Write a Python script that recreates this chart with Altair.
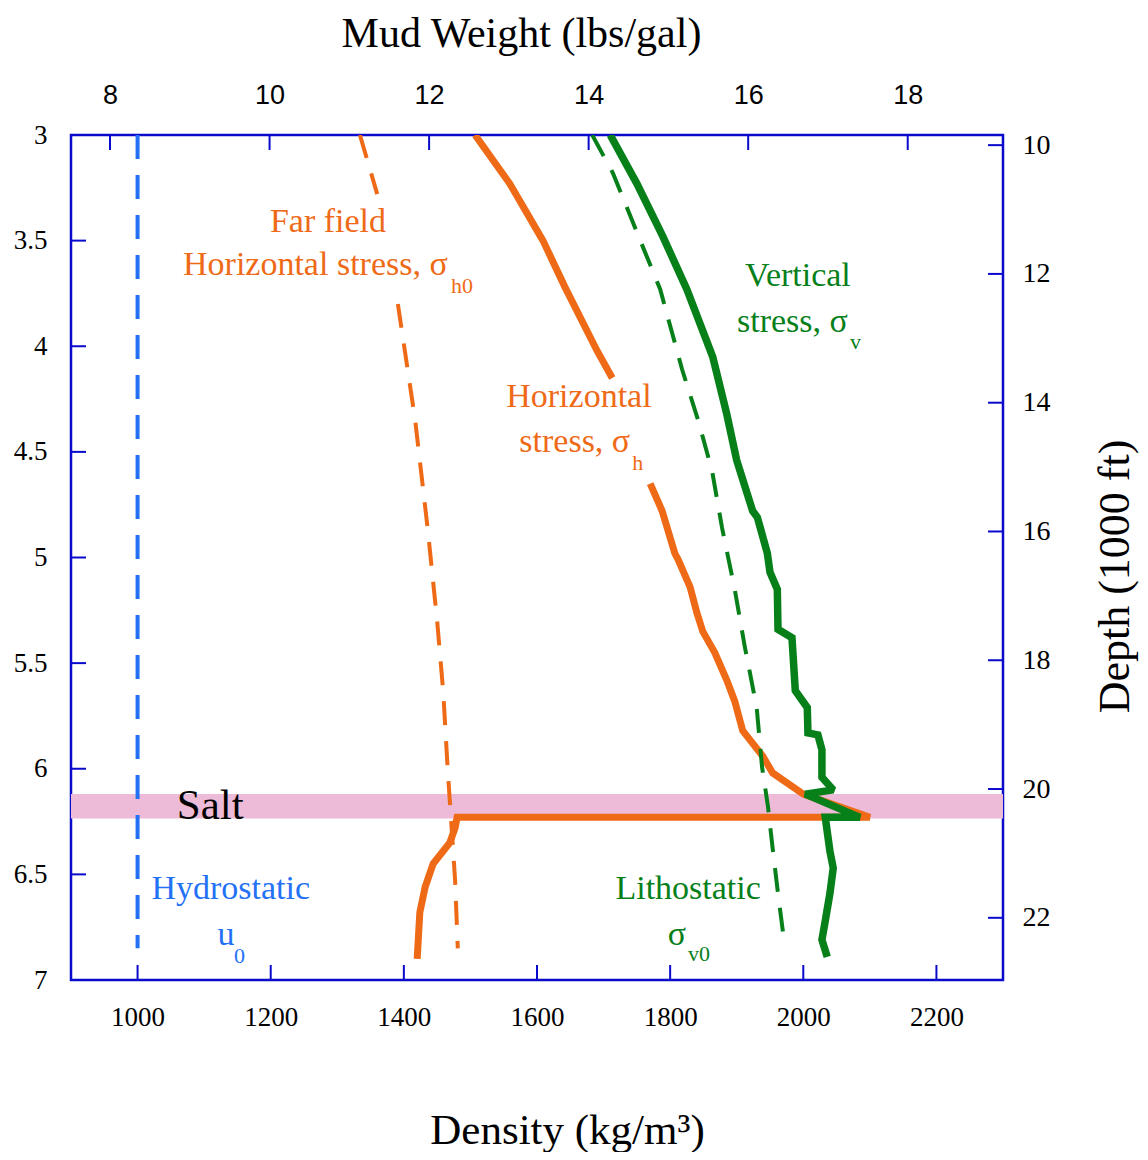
import altair as alt
import pandas as pd

W, H = 932, 845
AXC = "#0A0ACC"
ORANGE = "#EF6A17"
GREEN = "#07801A"
HYDRO = "#2371F5"
SALTC = "#EDBBD7"

LB_PER_GAL = 119.826   # kg/m3 per lbs/gal
KFT_KM = 0.3048        # km per 1000 ft

# ---- tick values ----
density_ticks = [1000, 1200, 1400, 1600, 1800, 2000, 2200]
depth_labels = [3, 3.5, 4, 4.5, 5, 5.5, 6, 6.5, 7]
depth_inner = [3.5, 4, 4.5, 5, 5.5, 6, 6.5]
mud_ticks = [8, 10, 12, 14, 16, 18]
kft_ticks = [10, 12, 14, 16, 18, 20, 22]

# ---- series (density kg/m3, depth km) ----
hydro_density = [1000, 1000]
hydro_depth = [3.0, 6.85]

far_density = [1334, 1360, 1391, 1417, 1436, 1450, 1459, 1466, 1472, 1477, 1481]
far_depth = [3.00, 3.28, 3.80, 4.35, 4.87, 5.30, 5.63, 6.01, 6.29, 6.53, 6.85]
far_seg = [0, 0, 1, 1, 1, 1, 1, 1, 1, 1, 1]

hs_density = [1507, 1559, 1609, 1642, 1690, 1713,
              1770, 1788, 1807, 1812, 1830, 1840, 1849, 1867, 1885, 1897, 1909, 1924,
              1939, 1954, 2000, 2100, 1480, 1477, 1469, 1444, 1432, 1424, 1420]
hs_depth = [3.00, 3.23, 3.50, 3.72, 4.02, 4.15,
            4.65, 4.78, 4.98, 5.01, 5.14, 5.26, 5.35, 5.45, 5.58, 5.68, 5.82, 5.88,
            5.94, 6.02, 6.12, 6.23, 6.23, 6.28, 6.35, 6.45, 6.56, 6.68, 6.90]
hs_seg = [0] * 6 + [1] * 23

litho_density = [1683, 1714, 1750, 1785, 1818, 1842, 1863, 1878, 1897, 1912,
                 1930, 1938, 1947, 1953, 1962, 1972]
litho_depth = [3.00, 3.18, 3.46, 3.73, 4.11, 4.35, 4.59, 4.86, 5.15, 5.42,
               5.71, 5.99, 6.18, 6.35, 6.59, 6.835]

vs_density = [1710, 1750, 1789, 1825, 1864, 1885, 1900, 1924, 1931, 1946, 1950,
              1961, 1962, 1983, 1988, 2006, 2007, 2022, 2028, 2028, 2045, 2003,
              2085, 2033, 2040, 2045, 2040, 2033, 2028, 2036]
vs_depth = [3.00, 3.23, 3.48, 3.73, 4.05, 4.32, 4.54, 4.78, 4.81, 4.98, 5.07,
            5.15, 5.34, 5.38, 5.63, 5.71, 5.83, 5.84, 5.91, 6.04, 6.10, 6.12,
            6.23, 6.23, 6.39, 6.47, 6.59, 6.72, 6.81, 6.89]

salt_top, salt_bottom = 6.12, 6.235

# ---- annotations ----
center_text = ["Far field", "Vertical", "Horizontal", "Hydrostatic", "u", "Lithostatic", "σ"]
center_color = [ORANGE, GREEN, ORANGE, HYDRO, HYDRO, GREEN, GREEN]
center_x = [1286, 1992, 1663, 1140, 1133, 1827, 1810]
center_y = [3.410, 3.667, 4.240, 6.569, 6.787, 6.569, 6.787]

right_text = ["Horizontal stress, σ", "stress, σ", "stress, σ"]
right_color = [ORANGE, GREEN, ORANGE]
right_x = [1466, 2067, 1740]
right_y = [3.615, 3.885, 4.453]

sub_text = ["h0", "v", "h", "0", "v0"]
sub_color = [ORANGE, GREEN, ORANGE, HYDRO, GREEN]
sub_x = [1471, 2070, 1743, 1145, 1827]
sub_y = [3.715, 3.980, 4.553, 6.887, 6.877]

salt_text = ["Salt"]
salt_x = [1059]
salt_y = [6.176]

SERIF = "Liberation Serif"
SANS = "Liberation Sans"

xs = alt.Scale(domain=[900, 2300], nice=False, zero=False)
ys = alt.Scale(domain=[3, 7], reverse=True, nice=False, zero=False)
mws = alt.Scale(domain=[900 / LB_PER_GAL, 2300 / LB_PER_GAL], nice=False, zero=False)
kfs = alt.Scale(domain=[3 / KFT_KM, 7 / KFT_KM], reverse=True, nice=False, zero=False)

x_axis = alt.Axis(orient="bottom", values=density_ticks, format="d", ticks=False, tickSize=0,
                  domain=False, grid=False, labelFont=SERIF, labelFontSize=27,
                  labelColor="black", labelPadding=24, labelFlush=False,
                  title="Density (kg/m³)", titleFont=SERIF, titleFontSize=43,
                  titleFontWeight="normal", titleColor="black", titleX=496, titleY=150,
                  titleAlign="center", titleBaseline="middle")
y_axis = alt.Axis(orient="left", values=depth_labels, format="~g", ticks=False, tickSize=0,
                  domain=False, grid=False, labelFont=SERIF, labelFontSize=27,
                  labelColor="black", labelPadding=24, labelFlush=False, title=None)
top_axis = alt.Axis(orient="top", values=mud_ticks, format="d", ticks=False, tickSize=0,
                    domain=False, grid=False, labelFont=SANS, labelFontSize=27,
                    labelColor="black", labelPadding=26, labelFlush=False,
                    title="Mud Weight (lbs/gal)", titleFont=SERIF, titleFontSize=42,
                    titleFontWeight="normal", titleColor="black", titleX=450, titleY=-89,
                    titleAlign="center", titleBaseline="alphabetic")
right_axis = alt.Axis(orient="right", values=kft_ticks, format="d", ticks=False, tickSize=0,
                      domain=False, grid=False, labelFont=SERIF, labelFontSize=28,
                      labelColor="black", labelPadding=19, labelFlush=False,
                      title="Depth (1000 ft)", titleFont=SERIF, titleFontSize=44,
                      titleFontWeight="normal", titleColor="black", titleAngle=270,
                      titleX=112, titleY=441, titleAlign="center", titleBaseline="middle")

X = alt.X("density:Q", scale=xs, axis=x_axis)
Y = alt.Y("depth:Q", scale=ys, axis=y_axis)


def series_df(dens, dep, seg=None):
    return pd.DataFrame({"density": dens, "depth": dep,
                         "seg": seg if seg is not None else [0] * len(dens),
                         "i": list(range(len(dens)))})


def line_chart(df, color, width, dash=None):
    kw = dict(color=color, strokeWidth=width, strokeMiterLimit=2, clip=True)
    if dash:
        kw["strokeDash"] = dash
    return alt.Chart(df).mark_line(**kw).encode(
        x=X, y=Y, detail="seg:N", order=alt.Order("i:Q"))


salt = alt.Chart(pd.DataFrame({"depth": [salt_top], "depth2": [salt_bottom]})).mark_rect(
    color=SALTC).encode(y=Y, y2="depth2:Q", x=alt.value(0), x2=alt.value(W))

hydro = line_chart(series_df(hydro_density, hydro_depth), HYDRO, 4, [24, 16])
far = line_chart(series_df(far_density, far_depth, far_seg), ORANGE, 4, [24, 16])
hs = line_chart(series_df(hs_density, hs_depth, hs_seg), ORANGE, 7)
litho = line_chart(series_df(litho_density, litho_depth), GREEN, 4, [24, 16])
vs = line_chart(series_df(vs_density, vs_depth), GREEN, 7.5)


def text_chart(texts, colors, xv, yv, align, size):
    df = pd.DataFrame({"label": texts, "c": colors, "density": xv, "depth": yv})
    return alt.Chart(df).mark_text(align=align, baseline="middle", font=SERIF,
                                   fontSize=size).encode(
        x=X, y=Y, text="label:N", color=alt.Color("c:N", scale=None))


t_center = text_chart(center_text, center_color, center_x, center_y, "center", 34)
t_right = text_chart(right_text, right_color, right_x, right_y, "right", 34)
t_sub = text_chart(sub_text, sub_color, sub_x, sub_y, "left", 22)
t_salt = text_chart(salt_text, ["black"], salt_x, salt_y, "left", 43)

bottom_ticks = alt.Chart(pd.DataFrame({"density": density_ticks})).mark_rule(
    color=AXC, strokeWidth=2).encode(x=X, y=alt.value(H), y2=alt.value(H - 15))
left_ticks = alt.Chart(pd.DataFrame({"depth": depth_inner})).mark_rule(
    color=AXC, strokeWidth=2).encode(y=Y, x=alt.value(0), x2=alt.value(15))

main = alt.layer(salt, hydro, far, hs, litho, vs, t_center, t_right, t_sub, t_salt,
                 bottom_ticks, left_ticks)

top_ticks = alt.Chart(pd.DataFrame({"mw": mud_ticks})).mark_rule(
    color=AXC, strokeWidth=2).encode(
    x=alt.X("mw:Q", scale=mws, axis=top_axis), y=alt.value(0), y2=alt.value(15))
right_ticks = alt.Chart(pd.DataFrame({"kft": kft_ticks})).mark_rule(
    color=AXC, strokeWidth=2).encode(
    y=alt.Y("kft:Q", scale=kfs, axis=right_axis), x=alt.value(W - 15), x2=alt.value(W))
secondary = alt.layer(top_ticks, right_ticks)

chart = alt.layer(main, secondary).resolve_scale(
    x="independent", y="independent"
).properties(
    width=W, height=H,
    padding={"left": 63, "top": 127, "right": 137, "bottom": 172},
    autosize=alt.AutoSizeParams(type="none"),
).configure_view(stroke=AXC, strokeWidth=2.5)

chart.save("out.html", embed_options={"renderer": "svg", "actions": False})
